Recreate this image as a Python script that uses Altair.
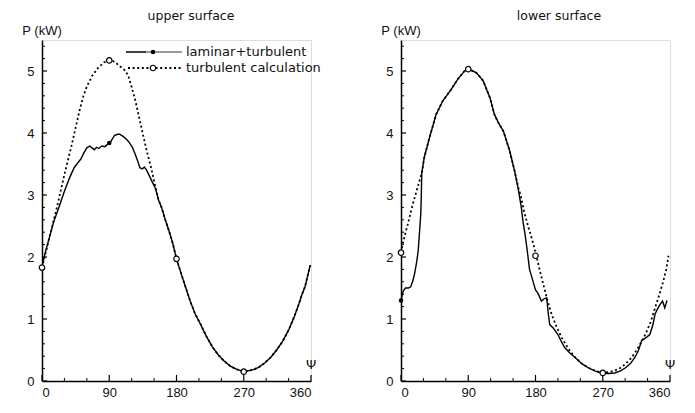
import altair as alt
import pandas as pd

# ---------------- data ----------------
# upper surface, laminar+turbulent (solid)
up_sol_psi = [0, 5, 10, 16, 22, 30, 37, 43, 48, 52, 56, 60, 64, 67, 70, 73, 76, 80, 84, 88, 91,
              94, 97, 101, 104, 108, 112, 116, 121, 125, 128, 131, 134, 137, 140, 144, 148, 152,
              156, 160, 165, 170, 175, 180, 186, 192, 198, 205, 212, 220, 228, 236, 244, 252, 260,
              268, 274, 282, 290, 298, 306, 314, 322, 330, 338, 344, 348, 352, 356, 359]
up_sol_P = [1.85, 2.1, 2.32, 2.58, 2.78, 3.06, 3.28, 3.44, 3.52, 3.58, 3.68, 3.76, 3.79, 3.76, 3.73,
            3.77, 3.75, 3.79, 3.78, 3.82, 3.84, 3.9, 3.96, 3.98, 3.98, 3.95, 3.91, 3.86, 3.77, 3.65,
            3.55, 3.44, 3.42, 3.45, 3.4, 3.3, 3.2, 3.1, 2.92, 2.8, 2.6, 2.42, 2.22, 1.97, 1.74, 1.52,
            1.3, 1.08, 0.92, 0.72, 0.55, 0.42, 0.32, 0.24, 0.19, 0.16, 0.16, 0.18, 0.22, 0.29, 0.38,
            0.5, 0.64, 0.82, 1.05, 1.25, 1.4, 1.52, 1.72, 1.87]
# upper surface, turbulent calculation (dotted)
up_dot_psi = [0, 10, 20, 30, 40, 50, 55, 60, 67, 75, 83, 90, 97, 104, 112, 116, 120, 125, 130, 135,
              140, 146, 152, 156, 160, 165, 170, 175, 180, 186, 192, 198, 205, 212, 220, 228, 236,
              244, 252, 260, 268, 274, 282, 290, 298, 306, 314, 322, 330, 338, 344, 348, 352, 356, 359]
up_dot_P = [1.83, 2.32, 2.8, 3.33, 3.82, 4.35, 4.58, 4.75, 4.92, 5.05, 5.14, 5.17, 5.15, 5.08, 5.0,
            4.9, 4.74, 4.52, 4.25, 3.98, 3.72, 3.44, 3.12, 2.92, 2.8, 2.6, 2.42, 2.22, 1.97, 1.74,
            1.52, 1.3, 1.08, 0.92, 0.72, 0.55, 0.42, 0.32, 0.24, 0.19, 0.16, 0.16, 0.18, 0.22, 0.29,
            0.38, 0.5, 0.64, 0.82, 1.05, 1.25, 1.4, 1.52, 1.72, 1.87]
up_circ_psi = [0, 90, 180, 270]
up_circ_P = [1.83, 5.17, 1.97, 0.15]
up_fill_psi = [90]
up_fill_P = [3.84]

# lower surface, laminar+turbulent (solid)
lo_sol_psi = [0, 3, 6, 10, 13, 16, 18, 21, 23, 24.6, 26.5, 27.2, 27.8, 31, 38, 47, 56, 67, 76, 85,
              91, 101, 110, 119, 125, 131, 137, 145.5, 152, 157, 161, 163.5, 166, 169, 172, 175, 178,
              180, 183, 188, 192, 195, 197, 199, 204, 210, 214, 219, 226, 233, 242, 251, 260, 269,
              278, 286, 293, 300, 307, 313, 318, 322, 328, 333, 337, 340, 344, 347, 350, 353, 356]
lo_sol_P = [1.3, 1.45, 1.5, 1.5, 1.52, 1.62, 1.72, 1.92, 2.1, 2.37, 2.7, 3.0, 3.35, 3.6, 3.92, 4.3,
            4.52, 4.7, 4.87, 5.0, 5.03, 4.97, 4.84, 4.57, 4.3, 4.15, 4.03, 3.71, 3.39, 3.09, 2.8, 2.55,
            2.37, 2.1, 1.8, 1.68, 1.55, 1.47, 1.42, 1.29, 1.33, 1.34, 1.1, 0.91, 0.85, 0.75, 0.65,
            0.54, 0.45, 0.38, 0.28, 0.21, 0.16, 0.13, 0.12, 0.13, 0.16, 0.21, 0.28, 0.38, 0.5, 0.65,
            0.7, 0.75, 0.9, 1.08, 1.18, 1.24, 1.29, 1.18, 1.3]
# lower surface, turbulent calculation (dotted)
lo_dot_psi = [0, 3, 6.7, 11, 15.7, 20, 24, 27.8, 31, 38, 47, 56, 67, 76, 85, 91, 101, 110, 119, 125,
              131, 137, 145.5, 152, 157, 160, 165, 170, 175, 180, 185, 190, 196, 202, 208, 215, 224,
              233, 242, 251, 261, 271, 281, 291, 300, 309, 318, 327, 334, 340, 346, 351, 355, 358]
lo_dot_P = [2.07, 2.25, 2.42, 2.62, 2.85, 3.03, 3.2, 3.35, 3.6, 3.92, 4.3, 4.52, 4.7, 4.87, 5.0, 5.03,
            4.97, 4.84, 4.57, 4.3, 4.15, 4.03, 3.71, 3.39, 3.12, 3.0, 2.72, 2.5, 2.3, 2.08, 1.82,
            1.58, 1.3, 1.06, 0.88, 0.7, 0.52, 0.38, 0.28, 0.21, 0.16, 0.13, 0.15, 0.19, 0.27, 0.38,
            0.55, 0.75, 0.95, 1.18, 1.4, 1.61, 1.8, 2.02]
lo_circ_psi = [0, 90, 180, 270]
lo_circ_P = [2.07, 5.03, 2.02, 0.13]
lo_fill_psi = [0]
lo_fill_P = [1.3]

# axis ticks
x_major = [0, 90, 180, 270, 360]
x_minor = [30, 60, 120, 150, 210, 240, 300, 330]
y_major = [0, 1, 2, 3, 4, 5]
y_minor = [0.2, 0.4, 0.6, 0.8, 1.2, 1.4, 1.6, 1.8, 2.2, 2.4, 2.6, 2.8, 3.2, 3.4, 3.6, 3.8,
           4.2, 4.4, 4.6, 4.8, 5.2, 5.4]

FONT = "Liberation Sans"
TFONT = "DejaVu Sans"
W, H = 269, 341

X = alt.X("psi:Q", scale=alt.Scale(domain=[0, 360], nice=False, zero=False),
          axis=alt.Axis(values=x_major, ticks=False, tickSize=0, grid=False, title=None,
                        labelPadding=5, labelFont=FONT, labelFontSize=13, labelColor="#111",
                        domainColor="black", domainWidth=1.5, format="d"))
Y = alt.Y("P:Q", scale=alt.Scale(domain=[0, 5.5], nice=False),
          axis=alt.Axis(values=y_major, ticks=False, tickSize=0, grid=False, title=None,
                        labelPadding=8, labelFont=FONT, labelFontSize=13, labelColor="#111",
                        domainColor="black", domainWidth=1.5, format="d"))


def df_of(psi, P):
    return pd.DataFrame({"psi": psi, "P": P})


def text_layer(txt, x, y, size=12, align="center", font=TFONT):
    return alt.Chart(pd.DataFrame({"t": [txt]})).mark_text(
        font=font, fontSize=size, align=align, baseline="middle", fill="#111", color="#111"
    ).encode(text=alt.Text("t:N"), x=alt.value(x), y=alt.value(y))


def panel(sol, dot, circ, fill, title, title_x, legend):
    solid = alt.Chart(df_of(*sol)).mark_line(color="black", strokeWidth=1.4).encode(x=X, y=Y)
    dotted = alt.Chart(df_of(*dot)).mark_line(
        color="black", strokeWidth=1.8, strokeDash=[2, 2.6]).encode(x=X, y=Y)
    circles = alt.Chart(df_of(*circ)).mark_point(
        shape="circle", filled=True, fill="white", stroke="black", strokeWidth=1.2, size=30,
        opacity=1).encode(x=X, y=Y)
    dots = alt.Chart(df_of(*fill)).mark_circle(color="black", size=20, opacity=1).encode(x=X, y=Y)

    xmaj = alt.Chart(pd.DataFrame({"psi": x_major})).mark_rule(color="black", strokeWidth=1.2).encode(
        x=X, y=alt.value(H), y2=alt.value(H - 6))
    xmin = alt.Chart(pd.DataFrame({"psi": x_minor})).mark_rule(color="black", strokeWidth=1).encode(
        x=X, y=alt.value(H), y2=alt.value(H - 3))
    ymaj = alt.Chart(pd.DataFrame({"P": y_major})).mark_rule(color="black", strokeWidth=1.2).encode(
        y=Y, x=alt.value(0), x2=alt.value(5))
    ymin = alt.Chart(pd.DataFrame({"P": y_minor})).mark_rule(color="black", strokeWidth=1).encode(
        y=Y, x=alt.value(0), x2=alt.value(3))

    layers = [xmaj, xmin, ymaj, ymin, dotted, solid, circles, dots,
              text_layer(title, title_x, -24, 12.5),
              text_layer("P (kW)", 0, -9, 13, font=FONT),
              text_layer("Ψ", W, 325, 13)]
    if legend:
        ly1, ly2 = 12, 28
        layers += [
            alt.Chart(pd.DataFrame({"a": [0]})).mark_rule(color="black", strokeWidth=1.5).encode(
                x=alt.value(84), x2=alt.value(104), y=alt.value(ly1)),
            alt.Chart(pd.DataFrame({"a": [0]})).mark_rule(color="black", strokeWidth=0.8).encode(
                x=alt.value(104), x2=alt.value(140), y=alt.value(ly1)),
            alt.Chart(pd.DataFrame({"a": [0]})).mark_circle(color="black", size=20, opacity=1).encode(
                x=alt.value(111), y=alt.value(ly1)),
            alt.Chart(pd.DataFrame({"a": [0]})).mark_rule(
                color="black", strokeWidth=1.8, strokeDash=[2, 2.6]).encode(
                x=alt.value(86), x2=alt.value(141), y=alt.value(ly2)),
            alt.Chart(pd.DataFrame({"a": [0]})).mark_point(
                shape="circle", filled=True, fill="white", stroke="black", strokeWidth=1.2,
                size=30, opacity=1).encode(x=alt.value(111), y=alt.value(ly2)),
            text_layer("laminar+turbulent", 144, ly1, 13, "left"),
            text_layer("turbulent calculation", 144, ly2, 13, "left"),
        ]
    return alt.layer(*layers).properties(width=W, height=H)


left = panel((up_sol_psi, up_sol_P), (up_dot_psi, up_dot_P), (up_circ_psi, up_circ_P),
             (up_fill_psi, up_fill_P), "upper surface", 149, True)
right = panel((lo_sol_psi, lo_sol_P), (lo_dot_psi, lo_dot_P), (lo_circ_psi, lo_circ_P),
              (lo_fill_psi, lo_fill_P), "lower surface", 158, False)

chart = alt.hconcat(left, right, spacing=90, bounds="flush").properties(
    padding={"left": 13, "top": 1, "right": 5, "bottom": 5}
).configure_view(stroke=None).configure(background="white")

chart.save("out.html", embed_options={"renderer": "svg", "actions": False})
